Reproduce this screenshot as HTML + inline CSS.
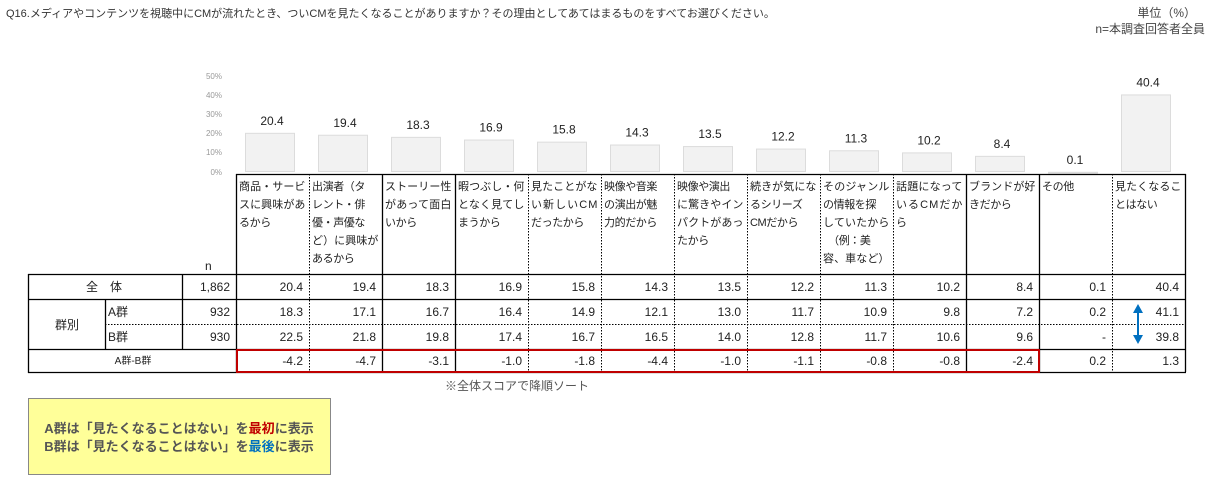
<!DOCTYPE html>
<html><head><meta charset="utf-8"><style>
html,body{margin:0;padding:0;background:#fff;width:1220px;height:488px;overflow:hidden}
svg{display:block;font-family:"Liberation Sans","Noto Sans CJK JP",sans-serif}
</style></head><body>
<svg width="1220" height="488" viewBox="0 0 1220 488" xmlns="http://www.w3.org/2000/svg">
<text x="6" y="17" font-size="11" fill="#333">Q16.メディアやコンテンツを視聴中にCMが流れたとき、ついCMを見たくなることがありますか？その理由としてあてはまるものをすべてお選びください。</text>
<text x="1196" y="17" font-size="12" fill="#444" text-anchor="end">単位（%）</text>
<text x="1205" y="33" font-size="12" fill="#444" text-anchor="end">n=本調査回答者全員</text>
<g font-size="8" fill="#999" text-anchor="end">
<text x="222" y="79">50%</text><text x="222" y="98">40%</text><text x="222" y="117">30%</text>
<text x="222" y="136">20%</text><text x="222" y="155">10%</text><text x="222" y="175">0%</text>
</g>
<g id="bars"></g>
<g id="tbl" font-size="12" fill="#222"></g>
<text x="445" y="390" font-size="12" fill="#555">※全体スコアで降順ソート</text>
<rect x="28.5" y="398.5" width="302" height="76" fill="#ffff99" stroke="#888"/>
<g font-size="13" font-weight="bold" fill="#555" text-anchor="middle">
<text x="179" y="433">A群は「見たくなることはない」を<tspan fill="#c00000">最初</tspan>に表示</text>
<text x="179" y="451">B群は「見たくなることはない」を<tspan fill="#0070c0">最後</tspan>に表示</text>
</g>
<script>
(function(){
var ns="http://www.w3.org/2000/svg";
function el(p,t,a,txt){var e=document.createElementNS(ns,t);for(var k in a)e.setAttribute(k,a[k]);if(txt!=null)e.textContent=txt;p.appendChild(e);return e;}
var heads=[["商品・サービ","スに興味があ","るから"],["出演者（タ","レント・俳","優・声優な","ど）に興味が","あるから"],["ストーリー性","があって面白","いから"],["暇つぶし・何","となく見てし","まうから"],["見たことがな","い新しいCM","だったから"],["映像や音楽","の演出が魅","力的だから"],["映像や演出","に驚きやイン","パクトがあっ","たから"],["続きが気にな","るシリーズ","CMだから"],["そのジャンル","の情報を探","していたから","　（例：美","容、車など）"],["話題になって","いるCMだか","ら"],["ブランドが好","きだから"],["その他"],["見たくなるこ","とはない"]];
var all=["20.4","19.4","18.3","16.9","15.8","14.3","13.5","12.2","11.3","10.2","8.4","0.1","40.4"];
var A=["18.3","17.1","16.7","16.4","14.9","12.1","13.0","11.7","10.9","9.8","7.2","0.2","41.1"];
var B=["22.5","21.8","19.8","17.4","16.7","16.5","14.0","12.8","11.7","10.6","9.6","-","39.8"];
var D=["-4.2","-4.7","-3.1","-1.0","-1.8","-4.4","-1.0","-1.1","-0.8","-0.8","-2.4","0.2","1.3"];
var bars=document.getElementById("bars"),t=document.getElementById("tbl");
var x0=236,w=73;
for(var i=0;i<13;i++){
 var cx=x0+i*w, v=parseFloat(all[i]), h=v*1.92, bt=172-h;
 el(bars,"rect",{x:cx+9.5,y:bt+0.5,width:49,height:Math.max(h-1,1),fill:"#f2f2f2",stroke:"#dcdcdc"});
 el(bars,"text",{x:cx+36,y:bt-8,"font-size":12,fill:"#222","text-anchor":"middle"},all[i]);
 heads[i].forEach(function(s,j){el(t,"text",{x:cx+3,y:190+j*18,"font-size":11,"letter-spacing":"-0.4",textLength:(s.length>=6?66:null)},s);});
 var r=cx+w-6;
 el(t,"text",{x:r,y:291,"text-anchor":"end"},all[i]);
 el(t,"text",{x:r,y:316,"text-anchor":"end"},A[i]);
 el(t,"text",{x:r,y:341,"text-anchor":"end"},B[i]);
 el(t,"text",{x:r,y:365,"text-anchor":"end"},D[i]);
}
t.querySelectorAll('text[textLength="null"]').forEach(function(e){e.removeAttribute("textLength");});
var L=function(x1,y1,x2,y2,c,sw,da){var a={x1:x1,y1:y1,x2:x2,y2:y2,stroke:c||"#000","stroke-width":sw||1.3};if(da)a["stroke-dasharray"]=da;el(t,"line",a);};
var solid=[0,2,3,10,11,13];
for(var i=0;i<=13;i++){var x=x0+i*w+0.5;var s=solid.indexOf(i)>=0;L(x,174,x,372,"#000",s?1.3:1,s?null:"1.5,1.5");}
L(236,174.5,1186,174.5);
L(28,274.5,1186,274.5);L(28,299.5,1186,299.5);L(105,324.5,1186,324.5,"#000",1,"1.5,1.5");
L(28,349.5,1186,349.5);L(28,372.5,1186,372.5);
L(28.5,274,28.5,373);L(182.5,274,182.5,349);L(105.5,299,105.5,349);
el(t,"rect",{x:237,y:350,width:802,height:22,fill:"none",stroke:"#c00000","stroke-width":2});
el(t,"text",{x:205,y:270},"n");
el(t,"text",{x:104,y:291,"text-anchor":"middle"},"全　体");
el(t,"text",{x:230,y:291,"text-anchor":"end"},"1,862");
el(t,"text",{x:230,y:316,"text-anchor":"end"},"932");
el(t,"text",{x:230,y:341,"text-anchor":"end"},"930");
el(t,"text",{x:67,y:329,"text-anchor":"middle"},"群別");
el(t,"text",{x:108,y:316},"A群");
el(t,"text",{x:108,y:341},"B群");
el(t,"text",{x:133,y:364,"text-anchor":"middle","font-size":10},"A群-B群");
L(1138,310,1138,338,"#0070c0",2);
el(t,"polygon",{points:"1133,313 1138,304 1143,313",fill:"#0070c0"});
el(t,"polygon",{points:"1133,335 1138,344 1143,335",fill:"#0070c0"});
})();
</script>
</svg>
</body></html>
